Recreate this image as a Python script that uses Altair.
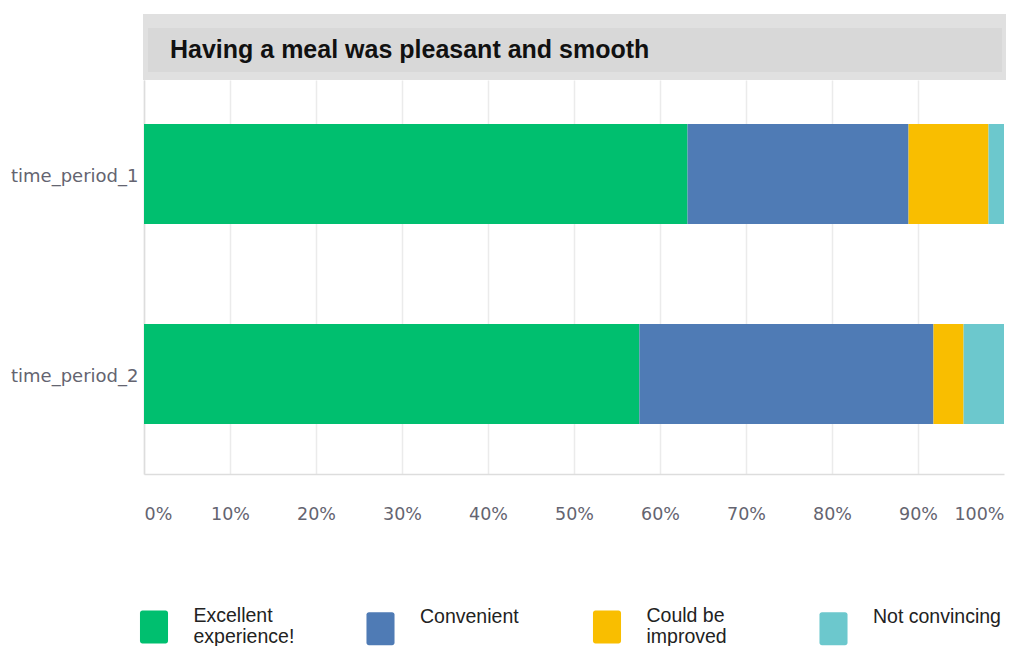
import altair as alt
import pandas as pd

TITLE = "Having a meal was pleasant and smooth"
periods = ["time_period_1", "time_period_2"]
categories = ["Excellent experience!", "Convenient", "Could be improved", "Not convincing"]
colors = ["#00BF6F", "#4F7BB5", "#F9BE00", "#6CC8CD"]
period1 = [63.2, 25.7, 9.3, 1.8]
period2 = [57.6, 34.2, 3.5, 4.7]
x_ticks = [0, 10, 20, 30, 40, 50, 60, 70, 80, 90, 100]

rows = []
for p, vals in zip(periods, [period1, period2]):
    for i, (c, v) in enumerate(zip(categories, vals)):
        rows.append({"period": p, "category": c, "value": v, "order": i})
df = pd.DataFrame(rows)

W, H = 860, 394

# rounded rectangle symbol, drawn a little below its anchor so the labels sit at its top
sym = ("M-0.7,-0.68H0.7A0.15,0.15 0 0 1 0.85,-0.53V1.17A0.15,0.15 0 0 1 0.7,1.32"
       "H-0.7A0.15,0.15 0 0 1 -0.85,1.17V-0.53A0.15,0.15 0 0 1 -0.7,-0.68Z")

legend = alt.Legend(
    title=None,
    orient="none",
    legendX=-6.5,
    legendY=525,
    direction="horizontal",
    columns=4,
    gridAlign="all",
    columnPadding=42.5,
    symbolType=sym,
    symbolSize=1089,
    symbolStrokeWidth=0,
    symbolOpacity=1,
    labelFont="Liberation Sans",
    labelFontSize=19.5,
    labelColor="#222222",
    labelOffset=23,
    labelBaseline="alphabetic",
    labelLimit=300,
    labelExpr="datum.label == 'Excellent experience!' ? ['Excellent', 'experience!'] : datum.label == 'Could be improved' ? ['Could be', 'improved'] : datum.label",
)

bars = alt.Chart(df).mark_bar(strokeWidth=0).encode(
    x=alt.X(
        "value:Q",
        stack="zero",
        scale=alt.Scale(domain=[0, 100], nice=False),
        axis=alt.Axis(
            title=None,
            values=x_ticks,
            labelExpr="datum.value + '%'",
            labelFlush=True,
            labelFont="DejaVu Sans",
            labelFontSize=17.5,
            labelColor="#646470",
            labelPadding=31,
            ticks=False,
            domainColor="#dddddd",
            domainWidth=1.5,
            grid=True,
            gridColor={"condition": {"test": "datum.value == 100", "value": "transparent"}, "value": "#ebebeb"},
            gridWidth=1.5,
        ),
    ),
    y=alt.Y(
        "period:N",
        sort=periods,
        scale=alt.Scale(paddingInner=0.5, paddingOuter=0.235, align=0.468),
        axis=alt.Axis(
            title=None,
            labelFont="DejaVu Sans",
            labelFontSize=18,
            labelColor="#646470",
            labelPadding=6,
            labelOffset=3,
            ticks=False,
            domainColor="#dddddd",
            domainWidth=1.5,
            grid=False,
        ),
    ),
    color=alt.Color(
        "category:N",
        scale=alt.Scale(domain=categories, range=colors),
        legend=legend,
    ),
    order=alt.Order("order:Q"),
)

deco = alt.InlineData(values=[{"t": TITLE}])
box_outer = alt.Chart(deco).mark_rect(color="#e0e0e0").encode(
    x=alt.value(-1), x2=alt.value(862), y=alt.value(-66), y2=alt.value(0)
)
box_inner = alt.Chart(deco).mark_rect(color="#d8d8d8").encode(
    x=alt.value(4), x2=alt.value(858), y=alt.value(-52), y2=alt.value(-8)
)
title_text = alt.Chart(deco).mark_text(
    align="left", baseline="middle", font="Liberation Sans", fontWeight="bold",
    fontSize=25, color="#111111"
).encode(x=alt.value(26), y=alt.value(-30), text="t:N")

chart = alt.layer(bars, box_outer, box_inner, title_text).properties(
    width=W, height=H,
    autosize=alt.AutoSizeParams(type="none"),
    padding={"left": 144, "top": 80, "right": 6, "bottom": 172},
    background="white",
).configure_view(stroke=None)

chart.save("out.html", embed_options={"renderer": "svg", "actions": False})
